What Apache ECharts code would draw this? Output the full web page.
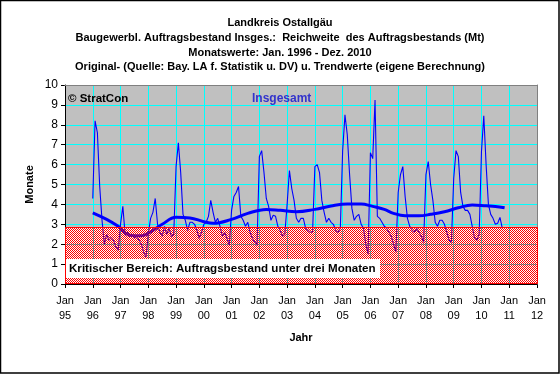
<!DOCTYPE html>
<html>
<head>
<meta charset="utf-8">
<script src="https://cdn.jsdelivr.net/npm/echarts@6/dist/echarts.min.js"></script>
<style>html,body{margin:0;padding:0;background:#fff}#c{width:560px;height:374px}</style>
</head>
<body>
<div id="c"></div>
<script>
// Monthly original values (Monate), Jan..Dec
const orig1996 = [4.3, 8.2, 7.6, 4.9, 3.2, 2.0, 2.5, 2.2, 2.35, 2.2, 1.85, 1.7];
const orig1997 = [3.0, 3.9, 2.45, 2.6, 2.4, 2.5, 2.3, 2.4, 2.2, 2.0, 1.6, 1.35];
const orig1998 = [2.5, 3.3, 3.6, 4.3, 3.0, 2.6, 2.4, 2.9, 2.5, 2.8, 2.4, 2.5];
const orig1999 = [5.9, 7.1, 5.6, 3.5, 3.2, 2.7, 3.1, 3.1, 3.0, 2.7, 2.3, 2.6];
const orig2000 = [3.0, 3.1, 3.4, 4.2, 3.6, 3.1, 3.3, 2.9, 2.4, 2.6, 2.3, 1.95];
const orig2001 = [3.7, 4.4, 4.6, 4.9, 3.4, 3.2, 2.9, 3.1, 2.6, 2.3, 2.1, 1.95];
const orig2002 = [6.4, 6.7, 5.6, 4.3, 3.9, 3.2, 3.45, 3.4, 2.9, 2.7, 2.4, 2.5];
const orig2003 = [4.0, 5.7, 4.8, 4.2, 3.3, 3.1, 3.3, 3.3, 2.8, 2.7, 2.6, 2.6];
const orig2004 = [5.9, 6.0, 5.6, 4.2, 3.6, 3.1, 3.3, 3.1, 3.0, 2.7, 2.6, 2.8];
const orig2005 = [6.7, 8.5, 7.5, 5.5, 3.8, 3.2, 3.4, 3.5, 3.0, 2.8, 2.0, 1.5];
const orig2006 = [6.6, 6.3, 9.25, 3.4, 3.3, 3.1, 2.9, 2.8, 2.6, 2.4, 2.0, 1.6];
const orig2007 = [4.6, 5.5, 5.9, 4.4, 3.3, 2.9, 2.7, 2.6, 2.8, 2.6, 2.4, 2.1];
const orig2008 = [5.5, 6.15, 5.0, 4.2, 3.1, 2.9, 3.2, 3.2, 3.0, 2.6, 2.2, 2.1];
const orig2009 = [5.3, 6.7, 6.4, 4.6, 3.9, 3.7, 3.7, 3.5, 2.9, 2.3, 2.2, 2.5];
const orig2010 = [6.65, 8.45, 6.0, 4.0, 3.5, 3.3, 3.0, 3.05, 3.35, 2.8];
const firstYear = 1996;

// Trend values (read at these months)
const trendDates = ['1996-01','1996-07','1996-12','1997-05','1997-10','1998-01','1998-07','1999-01','1999-07','2000-01','2000-05','2001-01','2001-08','2002-04','2002-10','2003-05','2004-01','2004-08','2005-03','2005-09','2006-02','2006-07','2006-11','2007-04','2007-10','2008-03','2008-09','2009-03','2009-09','2010-03','2010-07','2010-11'];
const trendValues = [3.58,3.25,2.9,2.45,2.42,2.55,3.0,3.35,3.32,3.13,3.05,3.25,3.55,3.75,3.7,3.63,3.75,3.92,4.02,4.02,3.9,3.75,3.55,3.43,3.43,3.5,3.63,3.83,3.97,3.93,3.9,3.83];

// Axis labels
const yearLabels = ['95','96','97','98','99','00','01','02','03','04','05','06','07','08','09','10','11','12'];
const axisMinYear = 1995, axisMaxYear = 2012;
const yMin = 0, yMax = 10;
const criticalLevel = 2.85;
const titleLines = ['Landkreis Ostallgäu','Baugewerbl. Auftragsbestand Insges.:  Reichweite  des Auftragsbestands (Mt)','Monatswerte: Jan. 1996 - Dez. 2010','Original- (Quelle: Bay. LA f. Statistik u. DV) u. Trendwerte (eigene Berechnung)'];
const criticalText = 'Kritischer Bereich: Auftragsbestand unter drei Monaten';
const boxRange = [1995, 0.29, 2006.35, 1.25];

const monthly = [].concat(orig1996, orig1997, orig1998, orig1999, orig2000, orig2001, orig2002, orig2003, orig2004, orig2005, orig2006, orig2007, orig2008, orig2009, orig2010);
const origData = monthly.map((v, i) => [firstYear + i / 12, v]);
const trendData = trendDates.map((d, i) => {
  const [y, m] = d.split('-').map(Number);
  return [y + (m - 1) / 12, trendValues[i]];
});

// checker pattern (red / transparent)
const pc = document.createElement('canvas');
pc.width = 2; pc.height = 2;
const pctx = pc.getContext('2d');
pctx.fillStyle = '#ff0000';
pctx.fillRect(0, 0, 1, 1);
pctx.fillRect(1, 1, 1, 1);

const FONT = 'Liberation Sans, Arial, sans-serif';

function rectFromValues(api) {
  const p0 = api.coord([api.value(0), api.value(3)]);
  const p1 = api.coord([api.value(2), api.value(1)]);
  return {x: Math.round(p0[0]), y: Math.round(p0[1]), width: Math.round(p1[0]) - Math.round(p0[0]), height: Math.round(p1[1]) - Math.round(p0[1])};
}

const chart = echarts.init(document.getElementById('c'), null, {renderer: 'canvas'});
chart.setOption({
  animation: false,
  backgroundColor: '#fff',
  textStyle: {fontFamily: FONT},
  title: [
    {text: titleLines.join('\n'), left: 'center', top: 16, padding: 0,
     textStyle: {fontSize: 11, fontWeight: 'bold', color: '#000', lineHeight: 14.7, fontFamily: FONT}},
    {text: '© StratCon', left: 68, top: 93, padding: 0,
     textStyle: {fontSize: 11.5, fontWeight: 'bold', color: '#000', fontFamily: FONT}},
    {text: 'Insgesamt', left: 252, top: 93, padding: 0,
     textStyle: {fontSize: 12, fontWeight: 'bold', color: '#3333cc', fontFamily: FONT}}
  ],
  grid: {left: 65, right: 23, top: 85, bottom: 90, show: false},
  xAxis: [{
    type: 'value', min: axisMinYear, max: axisMaxYear, interval: 1,
    axisLine: {show: true, onZero: false, lineStyle: {color: '#000', width: 1}},
    axisTick: {show: true, inside: false, length: 4, lineStyle: {color: '#000'}},
    axisLabel: {show: true, margin: 9, fontSize: 11, color: '#000', lineHeight: 15, fontFamily: FONT,
      showMinLabel: true, showMaxLabel: true,
      formatter: v => 'Jan\n' + yearLabels[Math.round(v - axisMinYear)]},
    splitLine: {show: true, lineStyle: {color: '#00ffff', width: 1}},
    name: 'Jahr', nameLocation: 'middle', nameGap: 48, nameMoveOverlap: false,
    nameTextStyle: {fontSize: 11, fontWeight: 'bold', color: '#000', fontFamily: FONT}
  }, {
    type: 'value', min: axisMinYear, max: axisMaxYear, position: 'top', z: 5,
    axisLine: {show: true, onZero: false, lineStyle: {color: '#808080', width: 1}},
    axisTick: {show: false}, axisLabel: {show: false}, splitLine: {show: false}
  }],
  yAxis: [{
    type: 'value', min: yMin, max: yMax, interval: 1,
    axisLine: {show: true, lineStyle: {color: '#000', width: 1}},
    axisTick: {show: true, inside: false, length: 4, lineStyle: {color: '#000'}},
    axisLabel: {fontSize: 12, color: '#000', margin: 7, fontFamily: FONT},
    splitLine: {show: true, lineStyle: {color: '#00ffff', width: 1}},
    name: 'Monate', nameLocation: 'middle', nameGap: 30, nameRotate: 90, nameMoveOverlap: false,
    nameTextStyle: {fontSize: 11, fontWeight: 'bold', color: '#000', fontFamily: FONT}
  }, {
    type: 'value', min: yMin, max: yMax, position: 'right', z: 5,
    axisLine: {show: true, lineStyle: {color: '#808080', width: 1}},
    axisTick: {show: false}, axisLabel: {show: false}, splitLine: {show: false}
  }],
  series: [
    {
      // plot background: gray above critical level, white below
      type: 'custom', z: -1, silent: true,
      data: [[axisMinYear, criticalLevel, axisMaxYear, yMax, 0], [axisMinYear, yMin, axisMaxYear, criticalLevel, 1]],
      encode: {x: [0, 2], y: [1, 3]},
      renderItem: function (params, api) {
        return {type: 'rect', shape: rectFromValues(api),
          style: {fill: api.value(4) === 0 ? '#c0c0c0' : '#ffffff'}};
      }
    },
    {
      name: 'Original', type: 'line', data: origData, z: 2, symbol: 'none', smooth: false,
      lineStyle: {color: '#0000ff', width: 1.1}
    },
    {
      name: 'Trend', type: 'line', data: trendData, z: 3, symbol: 'none', smooth: 0.4,
      lineStyle: {color: '#0000ff', width: 3}
    },
    {
      // critical zone, red checker pattern
      type: 'custom', z: 6, silent: true,
      data: [[axisMinYear, yMin, axisMaxYear, criticalLevel]],
      encode: {x: [0, 2], y: [1, 3]},
      renderItem: function (params, api) {
        const r = rectFromValues(api);
        return {
          type: 'rect',
          shape: {x: r.x + 0.5, y: r.y + 0.5, width: r.width, height: r.height - 1},
          style: {fill: {image: pc, repeat: 'repeat'}, stroke: '#ff0000', lineWidth: 1}
        };
      }
    },
    {
      // white label box
      type: 'custom', z: 8, silent: true,
      data: [boxRange],
      encode: {x: [0, 2], y: [1, 3]},
      renderItem: function (params, api) {
        const r = rectFromValues(api);
        return {
          type: 'group',
          children: [
            {type: 'rect', shape: {x: r.x + 1, y: r.y, width: r.width - 1, height: r.height}, style: {fill: '#ffffff'}},
            {type: 'text', style: {text: criticalText, x: r.x + 4, y: r.y + r.height / 2,
              verticalAlign: 'middle', align: 'left', fill: '#000',
              font: 'bold 11.6px ' + FONT}}
          ]
        };
      }
    }
  ],
  graphic: [{
    type: 'rect', z: 100, silent: true,
    shape: {x: 0.5, y: 0.5, width: 558.5, height: 372.5},
    style: {fill: 'none', stroke: '#000', lineWidth: 1.5}
  }]
});
</script>
</body>
</html>
